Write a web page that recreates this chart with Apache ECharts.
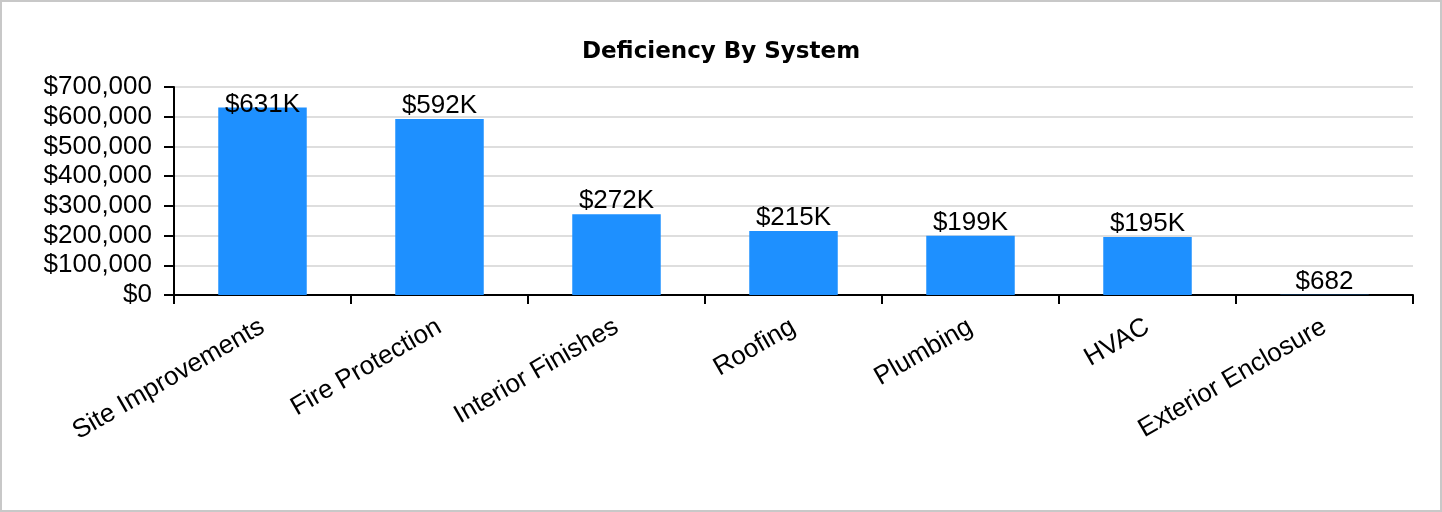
<!DOCTYPE html>
<html>
<head>
<meta charset="utf-8">
<title>Deficiency By System</title>
<script src="https://cdn.jsdelivr.net/npm/echarts@6/dist/echarts.min.js"></script>
<style>
  html, body { margin: 0; padding: 0; background: #fff; }
  #chart { width: 1442px; height: 512px; }
</style>
</head>
<body>
<div id="chart"></div>
<script>
// Deficiency cost per building system
const systems = ['Site Improvements', 'Fire Protection', 'Interior Finishes', 'Roofing', 'Plumbing', 'HVAC', 'Exterior Enclosure'];
const costs = [631000, 592000, 272000, 215000, 199000, 195000, 682];
const yTicks = [0, 100000, 200000, 300000, 400000, 500000, 600000, 700000];

function money(v) {
  return '$' + v.toLocaleString('en-US');
}
function shortMoney(v) {
  return v >= 1000 ? '$' + Math.round(v / 1000) + 'K' : '$' + v;
}

// The tallest bar's label is held inside the plot area, so it sits lower on the bar
const barData = costs.map((v, i) => i === 0
  ? { value: v, label: { offset: [0, 10] } }
  : { value: v });

const chart = echarts.init(document.getElementById('chart'));
chart.setOption({
  animation: false,
  backgroundColor: '#ffffff',
  title: {
    text: 'Deficiency By System',
    left: 'center',
    top: 36,
    textStyle: { fontFamily: 'DejaVu Sans', fontWeight: 'bold', fontSize: 23, color: '#000' }
  },
  graphic: [{
    type: 'rect',
    shape: { x: 1, y: 1, width: 1440, height: 510 },
    style: { fill: 'none', stroke: '#c8c8c8', lineWidth: 2 },
    silent: true
  }],
  grid: { left: 174, right: 29, top: 87, bottom: 217, containLabel: false },
  xAxis: {
    type: 'category',
    data: systems,
    axisLine: { lineStyle: { color: '#000', width: 2 } },
    axisTick: { show: true, length: 9, alignWithLabel: false, lineStyle: { color: '#000', width: 2 } },
    axisLabel: {
      rotate: 30,
      interval: 0,
      margin: 30,
      color: '#000',
      fontFamily: 'Liberation Sans',
      fontSize: 26
    }
  },
  yAxis: {
    type: 'value',
    min: yTicks[0],
    max: yTicks[yTicks.length - 1],
    interval: yTicks[1] - yTicks[0],
    axisLine: { show: true, lineStyle: { color: '#000', width: 2 } },
    axisTick: { show: true, length: 10, lineStyle: { color: '#000', width: 2 } },
    splitLine: { lineStyle: { color: '#d3d3d3', width: 1.5 } },
    axisLabel: {
      margin: 22,
      color: '#000',
      fontFamily: 'Liberation Sans',
      fontSize: 26,
      formatter: money
    }
  },
  series: [{
    type: 'bar',
    data: barData,
    barWidth: '50%',
    itemStyle: { color: '#1e90ff' },
    label: {
      show: true,
      position: 'top',
      distance: 0,
      color: '#000',
      fontFamily: 'Liberation Sans',
      fontSize: 26,
      formatter: p => shortMoney(p.value)
    }
  }]
});
</script>
</body>
</html>
